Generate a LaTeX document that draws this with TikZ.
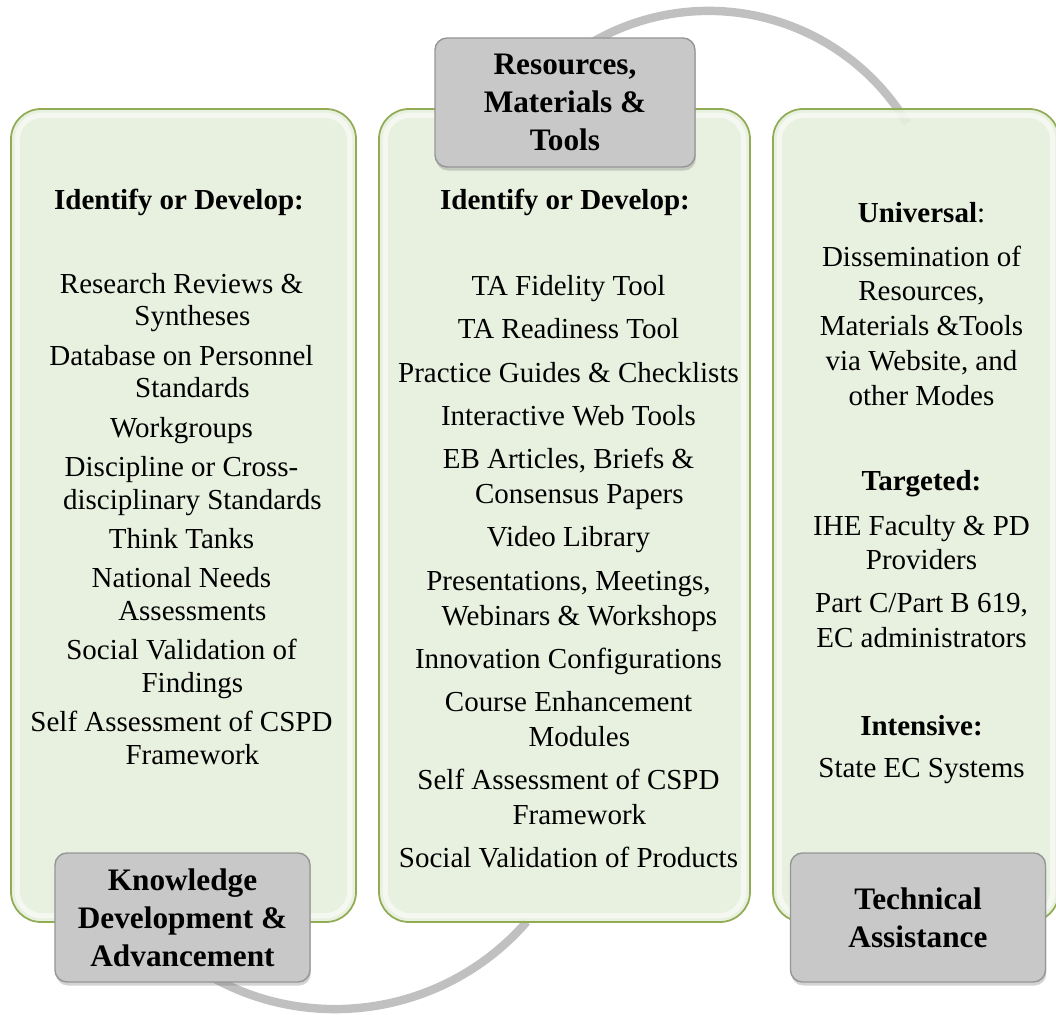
\documentclass[tikz,border=0pt]{standalone}
\usepackage{fontspec}
\setmainfont{Liberation Serif}
\usepackage{tikz}
\usetikzlibrary{shadows, calc}
\definecolor{panelgreen}{RGB}{230,239,220}
\definecolor{paneledge}{RGB}{145,172,85}
\definecolor{taggray}{RGB}{200,200,200}
\definecolor{tagedge}{RGB}{150,150,150}
\definecolor{ringgray}{RGB}{192,192,192}

\begin{document}
\begin{tikzpicture}[
    panel/.style={rectangle, draw=paneledge, line width=1pt, fill=panelgreen, fill opacity=0.9, rounded corners=0.6cm, minimum height=16.26cm, inner sep=0pt},
    glow/.style={draw=white, line width=3pt, opacity=0.55, rounded corners=0.5cm},
    titlebox/.style={rectangle, draw=tagedge, line width=0.8pt, fill=taggray, rounded corners=0.24cm, minimum width=5.1cm, minimum height=2.58cm, align=center, drop shadow={shadow xshift=0.5pt, shadow yshift=-2pt, opacity=0.35}, font=\bfseries\fontsize{17.8}{21.7}\selectfont},
    heading/.style={anchor=base, inner sep=0pt, font=\bfseries\fontsize{16.5}{19.8}\selectfont},
    items/.style={anchor=north, inner sep=0pt, align=center},
    ring/.style={draw=ringgray, line width=4.8pt}
]
\useasboundingbox (0,0) rectangle (21.12,-20.30);

% the ring, two visible pieces
\coordinate (upper) at (14.172,-4.85);
\coordinate (lower) at (6.702,-15.106);
\draw[ring] ([shift={(125:4.632)}]upper) arc[start angle=125, end angle=31, radius=4.632];
\draw[ring] ([shift={(235:5.076)}]lower) arc[start angle=235, end angle=319, radius=5.076];

% three columns
\node[panel, minimum width=6.9cm] (knowcol) at (3.67,-10.31) {};
\node[panel, minimum width=7.42cm] (rescol) at (11.29,-10.31) {};
\node[panel, minimum width=5.72cm] (tacol) at (18.32,-10.31) {};
\foreach \c in {knowcol, rescol, tacol}
    \draw[glow] ([shift={(4pt,-4pt)}]\c.north west) rectangle ([shift={(-4pt,4pt)}]\c.south east);

\node[heading] (knowhead) at (3.58,-4.20) {Identify or Develop:};
\node[heading] (reshead) at (11.30,-4.20) {Identify or Develop:};

\node[items, font=\fontsize{16.5}{18.5}\selectfont] (knowlist) at (3.63,-5.46) {Research Reviews \&\\\hspace*{0.75em}Syntheses\\[3.9pt]
    Database on Personnel\\\hspace*{0.75em}Standards\\[3.9pt]
    Workgroups\\[3.9pt]
    Discipline or Cross-\\\hspace*{0.75em}disciplinary Standards\\[3.9pt]
    Think Tanks\\[3.9pt]
    National Needs\\\hspace*{0.75em}Assessments\\[3.9pt]
    Social Validation of\\\hspace*{0.75em}Findings\\[3.9pt]
    Self Assessment of CSPD\\\hspace*{0.75em}Framework};

\node[items, font=\fontsize{16.5}{19.84}\selectfont] (reslist) at (11.37,-5.50) {TA Fidelity Tool\\[4.8pt]
    TA Readiness Tool\\[4.8pt]
    Practice Guides \& Checklists\\[4.8pt]
    Interactive Web Tools\\[4.8pt]
    EB Articles, Briefs \&\\\hspace*{0.75em}Consensus Papers\\[4.8pt]
    Video Library\\[4.8pt]
    Presentations, Meetings,\\\hspace*{0.75em}Webinars \& Workshops\\[4.8pt]
    Innovation Configurations\\[4.8pt]
    Course Enhancement\\\hspace*{0.75em}Modules\\[4.8pt]
    Self Assessment of CSPD\\\hspace*{0.75em}Framework\\[4.8pt]
    Social Validation of Products};

\node[items, font=\fontsize{16.5}{19.84}\selectfont] (talist) at (18.43,-4.05) {\textbf{Universal}:\\[4.7pt]
    Dissemination of\\Resources,\\Materials \&Tools\\via Website, and\\other Modes\\[28.7pt]
    \textbf{Targeted:}\\[5.3pt]
    IHE Faculty \& PD\\Providers\\[4.3pt]
    Part C/Part B 619,\\EC administrators\\[30.6pt]
    \textbf{Intensive:}\\[4pt]
    State EC Systems};

% grey title boxes
\node[titlebox, minimum width=5.2cm] (restag) at (11.30,-2.05) {Resources,\\Materials \&\\Tools};
\node[titlebox] (knowtag) at (3.65,-18.35) {Knowledge\\Development \&\\Advancement};
\node[titlebox] (tatag) at (18.36,-18.35) {Technical\\Assistance};

\end{tikzpicture}
\end{document}
